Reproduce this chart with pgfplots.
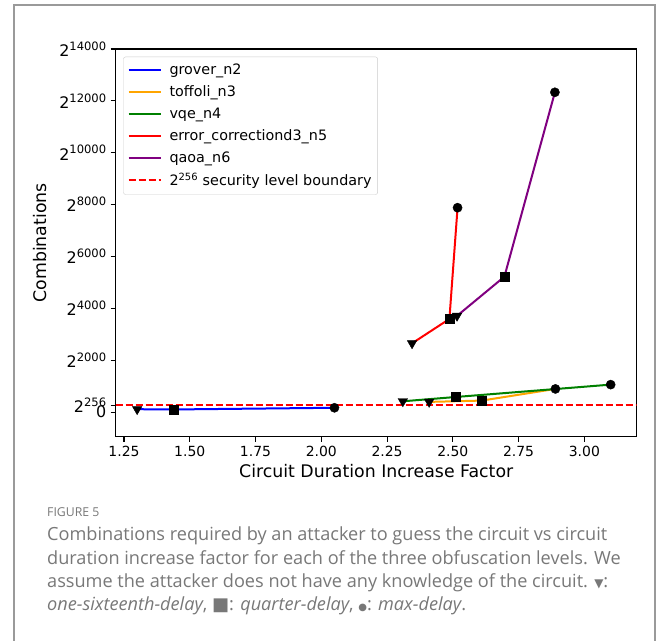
\documentclass[border=0pt]{standalone}
\usepackage{fontspec}
\setmainfont{DejaVu Sans}
\newfontfamily\capfont{Open Sans}
\newfontfamily\symfont{DejaVu Sans}
\usepackage{pgfplots}
\pgfplotsset{compat=1.18}
\definecolor{mplorange}{HTML}{FFA500}
\definecolor{mplgreen}{HTML}{008000}
\definecolor{mplpurple}{HTML}{800080}
\definecolor{mplblue}{HTML}{0000FF}
\definecolor{mplred}{HTML}{FF0000}
\definecolor{capgray}{HTML}{787878}
\definecolor{framegray}{HTML}{9A9A9A}
\newcommand{\tpow}[1]{{\fontsize{16}{18}\selectfont 2}\raisebox{6.2bp}{\fontsize{11.6}{13}\selectfont #1}}
\begin{document}
\begin{tikzpicture}[x=1bp,y=1bp]
\useasboundingbox[fill=white] (0,0) rectangle (659,641);
\draw[framegray, line width=2bp] (14,-2) -- (14,636) -- (655,636) -- (655,-2);
\begin{axis}[
  at={(115.7bp,204.3bp)}, anchor=south west,
  scale only axis, width=521bp, height=387.7bp,
  xmin=1.2185, xmax=3.199, ymin=-950, ymax=14000,
  scaled y ticks=false,
  axis line style={line width=1.5bp},
  tick align=outside, xtick pos=bottom, ytick pos=left,
  major tick length=5bp,
  every tick/.style={black, line width=1.1bp},
  xtick={1.25,1.5,1.75,2,2.25,2.5,2.75,3},
  xticklabel style={/pgf/number format/fixed, /pgf/number format/zerofill, /pgf/number format/precision=2, font=\fontsize{14}{16}\selectfont, yshift=-1bp},
  /pgf/number format/assume math mode=true,
  ytick={0,256,2000,4000,6000,8000,10000,12000,14000},
  yticklabels={{\fontsize{16}{18}\selectfont 0},\tpow{256},\tpow{2000},\tpow{4000},\tpow{6000},\tpow{8000},\tpow{10000},\tpow{12000},\tpow{14000}},
  yticklabel style={xshift=-1bp},
  label style={font=\fontsize{17.4}{20}\selectfont},
  xlabel={Circuit Duration Increase Factor},
  ylabel={Combinations},
  xlabel style={yshift=-1bp},
  ylabel style={yshift=6bp},
  legend style={at={(0.0146,0.98)}, anchor=north west, draw=black!20, rounded corners=2bp,
    font=\fontsize{14.4}{16}\selectfont, fill=white, fill opacity=0.8, text opacity=1,
    row sep=5.7bp, inner xsep=4bp, inner ysep=5bp,
    /tikz/every odd column/.append style={column sep=6bp}},
  legend cell align=left,
  legend image code/.code={\draw[#1] (0bp,0bp) -- (32bp,0bp);},
]
% markers (drawn beneath the lines)
\addplot[only marks, mark=triangle*, mark size=5.5bp, mark options={rotate=180, fill=black, draw=black}, forget plot]
  coordinates {(1.30,110) (2.41,392) (2.31,415) (2.345,2650) (2.516,3710)};
\addplot[only marks, mark=square*, mark size=4.5bp, mark options={fill=black, draw=black}, forget plot]
  coordinates {(1.44,100) (2.61,442) (2.51,580) (2.487,3590) (2.696,5220)};
\addplot[only marks, mark=*, mark size=4.6bp, mark options={fill=black, draw=black}, forget plot]
  coordinates {(2.05,165) (2.89,892) (3.10,1058) (2.518,7880) (2.888,12330)};
% lines
\addplot[mplblue, line width=2bp, no marks] coordinates {(1.30,110) (1.44,100) (2.05,165)};
\addlegendentry{grover\_n2}
\addplot[mplorange, line width=2bp, no marks] coordinates {(2.41,392) (2.61,442) (2.89,892)};
\addlegendentry{toffoli\_n3}
\addplot[mplgreen, line width=2bp, no marks] coordinates {(2.31,415) (2.51,580) (3.10,1058)};
\addlegendentry{vqe\_n4}
\addplot[mplred, line width=2bp, no marks] coordinates {(2.345,2650) (2.487,3590) (2.518,7880)};
\addlegendentry{error\_correctiond3\_n5}
\addplot[mplpurple, line width=2bp, no marks] coordinates {(2.516,3710) (2.696,5220) (2.888,12330)};
\addlegendentry{qaoa\_n6}
\addplot[mplred, line width=2bp, dash pattern=on 7bp off 3bp, no marks] coordinates {(1.2185,256) (3.199,256)};
\addlegendentry{2\textsuperscript{256} security level boundary}
\end{axis}
\node[anchor=base west, inner sep=0, font=\capfont\fontsize{12.3}{13}\selectfont, text=capgray] at (47,124) {FIGURE 5};
\node[anchor=north west, inner sep=0, align=left, font=\capfont\fontsize{18.2}{23.3}\selectfont, text=capgray] at (47,114)
{Combinations required by an attacker to guess the circuit vs circuit\\
duration increase factor for each of the three obfuscation levels. We\\
assume the attacker does not have any knowledge of the circuit. {\symfont\fontsize{12}{14}\selectfont ▼}:\\
\textit{one-sixteenth-delay}, {\symfont ■}: \textit{quarter-delay}, {\symfont\fontsize{10}{12}\selectfont ●}: \textit{max-delay}.};
\end{tikzpicture}
\end{document}
